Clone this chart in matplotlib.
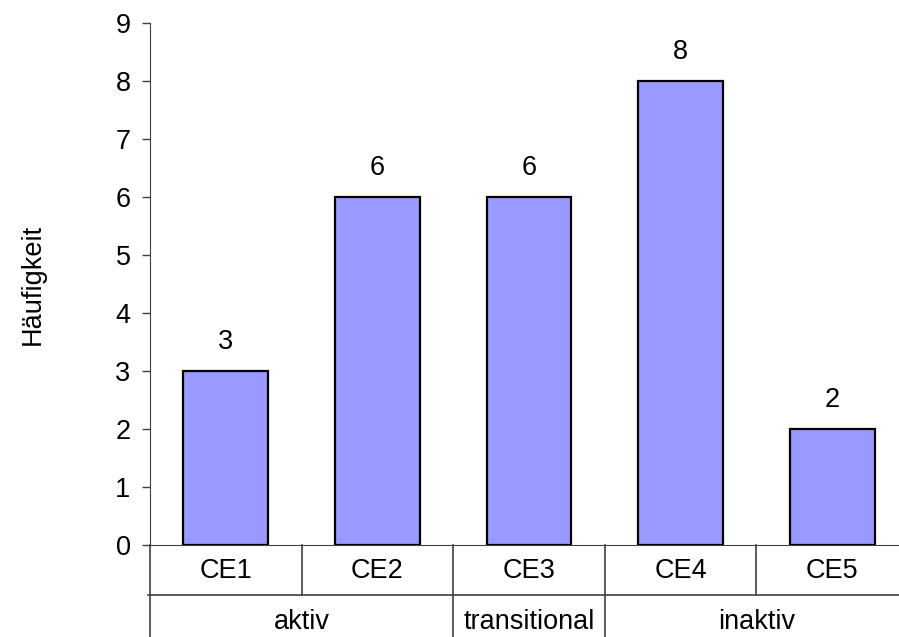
import matplotlib
matplotlib.use("Agg")
from matplotlib import pyplot as plt
import numpy as np

# donnees
categories = ["CE1", "CE2", "CE3", "CE4", "CE5"]
counts = [3, 6, 6, 8, 2]
groups = ["aktiv", "transitional", "inaktiv"]
group_sizes = [2, 1, 2]

plt.rcParams['font.family'] = ['Liberation Sans', 'DejaVu Sans']
fs = 19.5
line_col = "#404040"

fig = plt.figure(figsize=(8.99, 6.37), dpi=100)
# axe place en pixels (le bord droit sort de l'image comme dans l'original)
W, H = 899, 637
ax = fig.add_axes([150 / W, 92 / H, 758 / W, 522 / H])

x = np.arange(len(categories)) + 0.5
ax.bar(x, counts, width=0.56, color="#9999FF", edgecolor="black", linewidth=1.6, zorder=3)

for xi, v in zip(x, counts):
    ax.text(xi, v + 0.5, str(v), ha="center", va="center", fontsize=fs)

ax.set_xlim(0, len(categories))
ax.set_ylim(0, 9)
ax.set_yticks(range(10))
ax.tick_params(axis="y", length=6, width=1, color=line_col, labelsize=fs, pad=8)
ax.set_xticks([])
for s in ["top", "right"]:
    ax.spines[s].set_visible(False)
ax.spines["left"].set_color(line_col)
ax.spines["bottom"].set_color(line_col)

ax.set_ylabel("Häufigkeit", fontsize=fs)
ax.yaxis.set_label_coords(-104 / 758, 0.5)

# tableau des categories sous l'axe
tr = ax.get_xaxis_transform()
y_mid = -50 / 522
y_low = -0.25
ax.plot([-0.012, 6], [y_mid, y_mid], transform=tr, color=line_col, lw=1.2, clip_on=False)
ax.plot([0, 0], [0, y_low], transform=tr, color=line_col, lw=1.2, clip_on=False)

for i, c in enumerate(categories):
    ax.text(i + 0.5, -26 / 522, c, transform=tr, ha="center", va="center", fontsize=fs)

bounds = np.cumsum(group_sizes)
for i in range(1, len(categories) + 1):
    if i in bounds:
        ax.plot([i, i], [0, y_low], transform=tr, color=line_col, lw=1.2, clip_on=False)
    else:
        ax.plot([i, i], [0, y_mid], transform=tr, color=line_col, lw=1.2, clip_on=False)

start = 0
for g, n in zip(groups, group_sizes):
    ax.text(start + n / 2, -77 / 522, g, transform=tr, ha="center", va="center", fontsize=fs)
    start += n

fig.savefig("out.png", dpi=100)
